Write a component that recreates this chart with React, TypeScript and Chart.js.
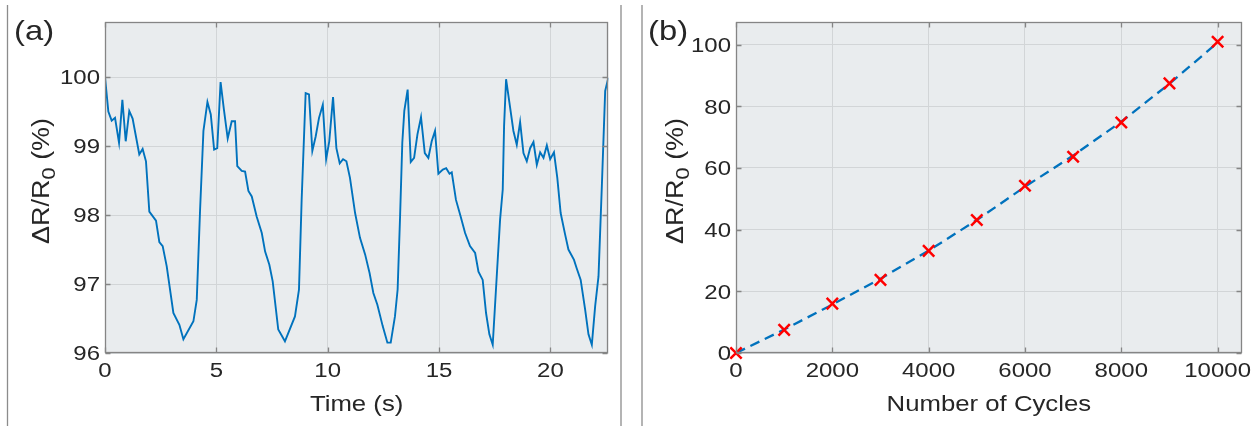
import React, { useEffect, useRef } from 'react';
import { Chart, registerables } from 'chart.js';

Chart.register(...registerables);

// ---------- Data ----------
const timeS = [
  0, 0.15, 0.3, 0.45, 0.63, 0.78, 0.93, 1.09, 1.24, 1.39,
  1.54, 1.69, 1.84, 1.99, 2.29, 2.44, 2.59, 2.77, 3.07, 3.34,
  3.52, 3.97, 4.12, 4.27, 4.42, 4.6, 4.75, 4.9, 5.04, 5.19,
  5.34, 5.51, 5.69, 5.84, 5.94, 6.14, 6.29, 6.44, 6.59, 6.81,
  7.04, 7.19, 7.38, 7.53, 7.78, 8.08, 8.53, 8.71, 8.83, 9.01,
  9.16, 9.31, 9.46, 9.61, 9.78, 9.93, 10.07, 10.24, 10.39, 10.54,
  10.69, 10.84, 11.0, 11.23, 11.45, 11.68, 11.88, 12.05, 12.23, 12.47,
  12.68, 12.83, 13.02, 13.14, 13.25, 13.35, 13.44, 13.59, 13.73, 13.88,
  14.03, 14.19, 14.36, 14.52, 14.67, 14.82, 14.97, 15.17, 15.32, 15.47,
  15.57, 15.76, 15.97, 16.17, 16.39, 16.62, 16.77, 16.96, 17.11, 17.26,
  17.41, 17.59, 17.74, 17.86, 17.92, 18.01, 18.16, 18.34, 18.49, 18.64,
  18.79, 18.94, 19.09, 19.24, 19.39, 19.54, 19.69, 19.84, 19.99, 20.16,
  20.31, 20.46, 20.66, 20.81, 21.06, 21.18, 21.36, 21.56, 21.71, 21.86,
  22.01, 22.16, 22.31, 22.46, 22.6,
];
const resistancePct = [
  100, 99.5, 99.37, 99.41, 99.05, 99.67, 99.07, 99.51, 99.4, 99.14,
  98.88, 98.96, 98.78, 98.05, 97.92, 97.61, 97.55, 97.26, 96.58, 96.41,
  96.2, 96.46, 96.77, 98.08, 99.22, 99.64, 99.46, 98.95, 98.97, 99.93,
  99.53, 99.11, 99.36, 99.36, 98.71, 98.64, 98.63, 98.35, 98.27, 97.98,
  97.74, 97.47, 97.28, 97.04, 96.34, 96.17, 96.53, 96.92, 98.22, 99.77,
  99.75, 98.93, 99.14, 99.41, 99.6, 98.81, 99.07, 99.71, 98.97, 98.75,
  98.81, 98.78, 98.54, 98.03, 97.67, 97.43, 97.16, 96.87, 96.7, 96.39,
  96.15, 96.15, 96.53, 96.92, 97.98, 99.05, 99.51, 99.82, 98.77, 98.83,
  99.17, 99.42, 98.9, 98.83, 99.07, 99.22, 98.6, 98.66, 98.68, 98.6,
  98.62, 98.22, 97.98, 97.74, 97.55, 97.45, 97.18, 97.06, 96.58, 96.27,
  96.12, 97.11, 97.93, 98.37, 99.29, 99.97, 99.63, 99.22, 99.02, 99.35,
  98.9, 98.78, 98.97, 99.06, 98.73, 98.91, 98.83, 99.01, 98.81, 98.91,
  98.54, 98.03, 97.72, 97.5, 97.35, 97.23, 97.06, 96.63, 96.27, 96.12,
  96.68, 97.11, 98.42, 99.8, 99.99,
];

const cycles = [0, 1000, 2000, 3000, 4000, 5000, 6000, 7000, 8000, 9000, 10000];
const measuredPct = [0, 7.5, 16.0, 23.7, 33.1, 43.1, 54.2, 63.6, 74.7, 87.4, 100.9];
const fitPct = [0, 7.6, 15.7, 24.1, 33.2, 43.1, 53.9, 64.0, 75.0, 87.3, 100.6];

const xTicksA = [0, 5, 10, 15, 20];
const yTicksA = [96, 97, 98, 99, 100];
const xTicksB = [0, 2000, 4000, 6000, 8000, 10000];
const yTicksB = [0, 20, 40, 60, 80, 100];

const xTitleA = 'Time (s)';
const xTitleB = 'Number of Cycles';
const yTitleMain = 'ΔR/R';
const yTitleSub = '0';
const yTitleTail = ' (%)';
const panelLabels = ['(a)', '(b)'];

// ---------- Styles ----------
const W = 1253;
const H = 426;
const FONT = '"Liberation Sans", Arial, Helvetica, sans-serif';
const TEXT = '#262626';
const AXIS = '#858585';
const GRID = '#d2d5d7';
const BG = '#e9ecee';
const BLUE = '#0072BD';
const SX = 1.17; // text is wider than Arial in the reference

function txt(ctx: CanvasRenderingContext2D, s: string, x: number, y: number, size: number, align: CanvasTextAlign) {
  ctx.save();
  ctx.font = `${size}px ${FONT}`;
  ctx.fillStyle = TEXT;
  ctx.textBaseline = 'alphabetic';
  ctx.textAlign = align;
  ctx.translate(x, y);
  ctx.scale(SX, 1);
  ctx.fillText(s, 0, 0);
  ctx.restore();
}

function yTitle(ctx: CanvasRenderingContext2D, baseX: number, centerY: number) {
  const size = 23;
  const subSize = 19;
  ctx.save();
  ctx.fillStyle = TEXT;
  ctx.textBaseline = 'alphabetic';
  ctx.textAlign = 'left';
  ctx.translate(baseX, centerY);
  ctx.rotate(-Math.PI / 2);
  ctx.scale(SX, 1);
  ctx.font = `${size}px ${FONT}`;
  const w1 = ctx.measureText(yTitleMain).width;
  const w3 = ctx.measureText(yTitleTail).width;
  ctx.font = `${subSize}px ${FONT}`;
  const w2 = ctx.measureText(yTitleSub).width;
  let x = -(w1 + w2 + w3) / 2;
  ctx.font = `${size}px ${FONT}`;
  ctx.fillText(yTitleMain, x, 0);
  x += w1;
  ctx.font = `${subSize}px ${FONT}`;
  ctx.fillText(yTitleSub, x, 6);
  x += w2;
  ctx.font = `${size}px ${FONT}`;
  ctx.fillText(yTitleTail, x, 0);
  ctx.restore();
}

type Decor = {
  xTicks: number[];
  yTicks: number[];
  xTitle: string;
  yTitleX: number;
  yTitleY: number;
};

function makeDecor(d: Decor) {
  return {
    id: 'decor',
    beforeDraw(chart: any) {
      const { ctx, chartArea: a } = chart;
      ctx.save();
      ctx.fillStyle = BG;
      ctx.fillRect(a.left, a.top, a.right - a.left, a.bottom - a.top);
      ctx.restore();
    },
    afterDraw(chart: any) {
      const { ctx, chartArea: a, scales } = chart;
      const L = Math.round(a.left) + 0.5;
      const R = Math.round(a.right) - 0.5;
      const T = Math.round(a.top) + 0.5;
      const B = Math.round(a.bottom) - 0.5;
      ctx.save();
      ctx.strokeStyle = AXIS;
      ctx.lineWidth = 1.3;
      ctx.strokeRect(L, T, R - L, B - T);
      const tl = 5;
      ctx.beginPath();
      d.xTicks.forEach((v) => {
        const px = Math.round(scales.x.getPixelForValue(v)) + 0.5;
        ctx.moveTo(px, B);
        ctx.lineTo(px, B - tl);
        ctx.moveTo(px, T);
        ctx.lineTo(px, T + tl);
      });
      d.yTicks.forEach((v) => {
        const py = Math.round(scales.y.getPixelForValue(v)) + 0.5;
        ctx.moveTo(L, py);
        ctx.lineTo(L + tl, py);
        ctx.moveTo(R, py);
        ctx.lineTo(R - tl, py);
      });
      ctx.stroke();
      ctx.restore();

      d.xTicks.forEach((v) => {
        txt(ctx, String(v), scales.x.getPixelForValue(v), 377, 20.5, 'center');
      });
      d.yTicks.forEach((v) => {
        txt(ctx, String(v), a.left - 5, scales.y.getPixelForValue(v) + 7.3, 20.5, 'right');
      });
      txt(ctx, d.xTitle, (a.left + a.right) / 2, 411, 22, 'center');
      yTitle(ctx, d.yTitleX, d.yTitleY);
    },
  };
}

const framePlugin = {
  id: 'frame',
  afterDraw(chart: any) {
    const { ctx } = chart;
    ctx.save();
    ctx.strokeStyle = '#8c8c8c';
    ctx.lineWidth = 1.3;
    [7.5, 621, 642].forEach((x) => {
      ctx.beginPath();
      ctx.moveTo(x, 5);
      ctx.lineTo(x, H);
      ctx.stroke();
    });
    ctx.restore();
    txt(ctx, panelLabels[0], 14, 40, 28, 'left');
    txt(ctx, panelLabels[1], 648, 40, 28, 'left');
  },
};

function baseScale(min: number, max: number, ticks: number[], horizontal: boolean) {
  return {
    type: 'linear',
    min,
    max,
    afterBuildTicks: (s: any) => {
      s.ticks = ticks.map((v) => ({ value: v }));
    },
    afterFit: (s: any) => {
      if (horizontal) s.height = 0;
      else s.width = 0;
    },
    ticks: { display: false },
    grid: { color: GRID, lineWidth: 1, drawTicks: false },
    border: { display: false },
  };
}

export default function App() {
  const refA = useRef<HTMLCanvasElement>(null);
  const refB = useRef<HTMLCanvasElement>(null);

  useEffect(() => {
    document.body.style.margin = '0';
    document.body.style.overflow = 'hidden';

    const chartA = new Chart(refA.current as HTMLCanvasElement, {
      type: 'scatter',
      data: {
        datasets: [
          {
            data: timeS.map((t, i) => ({ x: t, y: resistancePct[i] })),
            showLine: true,
            borderColor: BLUE,
            borderWidth: 1.9,
            pointRadius: 0,
            fill: false,
          },
        ],
      },
      options: {
        animation: false,
        responsive: false,
        devicePixelRatio: 1,
        events: [],
        layout: { padding: { left: 105, top: 22, right: W - 608.3, bottom: H - 353 } },
        plugins: { legend: { display: false }, tooltip: { enabled: false } },
        scales: {
          x: baseScale(0, 22.6, xTicksA, true),
          y: baseScale(96, 100.8, yTicksA, false),
        },
      } as any,
      plugins: [makeDecor({ xTicks: xTicksA, yTicks: yTicksA, xTitle: xTitleA, yTitleX: 49, yTitleY: 181 }), framePlugin],
    });

    const chartB = new Chart(refB.current as HTMLCanvasElement, {
      type: 'scatter',
      data: {
        datasets: [
          {
            data: cycles.map((c, i) => ({ x: c, y: measuredPct[i] })),
            showLine: false,
            pointStyle: 'crossRot',
            pointRadius: 8,
            pointBorderWidth: 2.5,
            borderColor: '#ff0000',
            backgroundColor: '#ff0000',
            clip: false,
          },
          {
            data: cycles.map((c, i) => ({ x: c, y: fitPct[i] })),
            showLine: true,
            borderColor: BLUE,
            borderWidth: 2.3,
            borderDash: [10, 6],
            pointRadius: 0,
            fill: false,
          },
        ],
      },
      options: {
        animation: false,
        responsive: false,
        devicePixelRatio: 1,
        events: [],
        layout: { padding: { left: 736, top: 22, right: W - 1241.7, bottom: H - 353 } },
        plugins: { legend: { display: false }, tooltip: { enabled: false } },
        scales: {
          x: baseScale(0, 10500, xTicksB, true),
          y: baseScale(0, 107.3, yTicksB, false),
        },
      } as any,
      plugins: [makeDecor({ xTicks: xTicksB, yTicks: yTicksB, xTitle: xTitleB, yTitleX: 683, yTitleY: 181 })],
    });

    return () => {
      chartA.destroy();
      chartB.destroy();
    };
  }, []);

  return (
    <div style={{ position: 'relative', width: W, height: H, background: '#ffffff', overflow: 'hidden' }}>
      <canvas ref={refA} width={W} height={H} style={{ position: 'absolute', left: 0, top: 0 }} />
      <canvas ref={refB} width={W} height={H} style={{ position: 'absolute', left: 0, top: 0 }} />
    </div>
  );
}
